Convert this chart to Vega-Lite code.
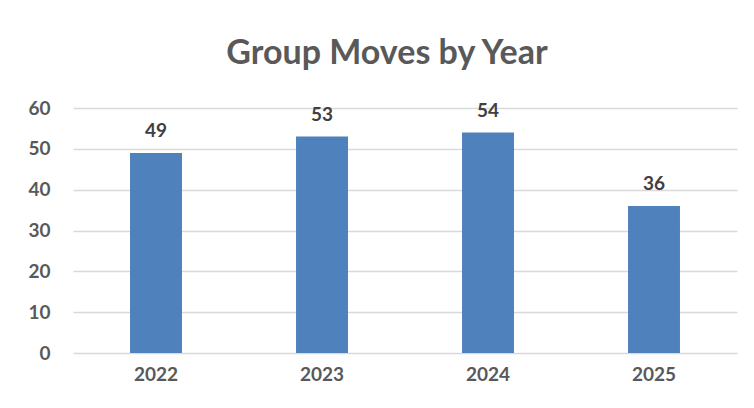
{
  "$schema": "https://vega.github.io/schema/vega-lite/v6.json",
  "width": 664,
  "height": 245,
  "autosize": "none",
  "padding": {"left": 73, "top": 108, "right": 17, "bottom": 55},
  "background": "white",
  "title": {
    "text": "Group Moves by Year",
    "font": "Lato",
    "fontSize": 34,
    "fontWeight": "bold",
    "color": "#595959",
    "anchor": "middle",
    "dx": -18,
    "offset": 28
  },
  "data": {
    "values": [
      {"year": "2022", "moves": 49},
      {"year": "2023", "moves": 53},
      {"year": "2024", "moves": 54},
      {"year": "2025", "moves": 36}
    ]
  },
  "encoding": {
    "x": {
      "field": "year",
      "type": "nominal",
      "sort": null,
      "scale": {"paddingInner": 0.687, "paddingOuter": 0.3435},
      "axis": {
        "title": null,
        "labelAngle": 0,
        "domain": false,
        "ticks": false,
        "labelFont": "Lato",
        "labelFontSize": 19,
        "labelFontWeight": "bold",
        "labelColor": "#595959",
        "labelPadding": 12
      }
    },
    "y": {
      "field": "moves",
      "type": "quantitative",
      "scale": {"domain": [0, 60]},
      "axis": {
        "title": null,
        "values": [0, 10, 20, 30, 40, 50, 60],
        "domain": false,
        "ticks": false,
        "gridColor": "#d9d9d9",
        "gridWidth": 1.3,
        "labelFont": "Lato",
        "labelFontSize": 19,
        "labelFontWeight": "bold",
        "labelColor": "#595959",
        "labelPadding": 23
      }
    }
  },
  "layer": [
    {"mark": {"type": "bar", "color": "#4f81bd"}},
    {
      "mark": {
        "type": "text",
        "baseline": "bottom",
        "dy": -12,
        "font": "Lato",
        "fontSize": 19,
        "fontWeight": "bold",
        "color": "#404040"
      },
      "encoding": {"text": {"field": "moves", "type": "quantitative"}}
    }
  ],
  "config": {"view": {"stroke": null}}
}
